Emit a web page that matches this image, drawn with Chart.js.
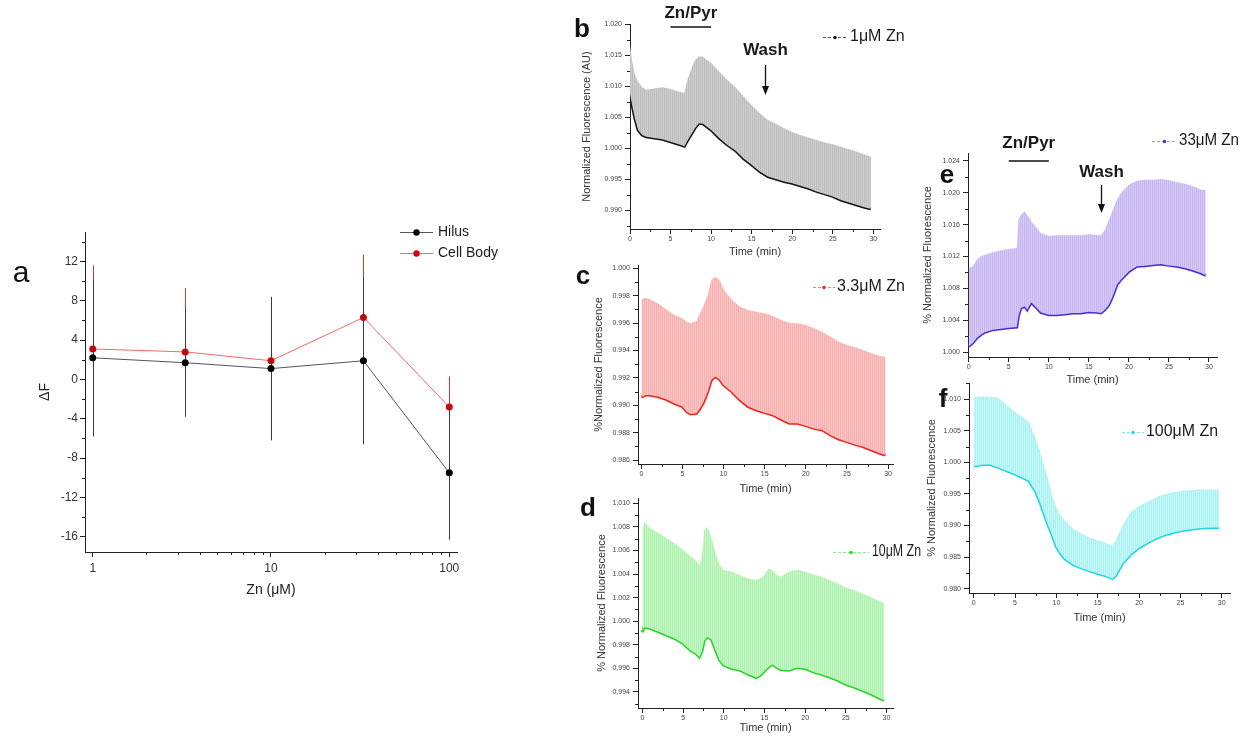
<!DOCTYPE html>
<html>
<head>
<meta charset="utf-8">
<script src="https://cdn.jsdelivr.net/npm/chart.js@4.4.1/dist/chart.umd.min.js"></script>
<style>
  html, body { margin: 0; padding: 0; background: #fff; }
  body { width: 1243px; height: 738px; position: relative; overflow: hidden; font-family: Arial, "Liberation Sans", sans-serif; }
  canvas { position: absolute; }
  .tag { position: absolute; transform: translate(-50%, -50%); color: #111; line-height: 1; }
  .tag.bold { font-weight: bold; font-size: 26px; }
</style>
</head>
<body>
<canvas id="chartA"></canvas>
<canvas id="chartB"></canvas>
<canvas id="chartC"></canvas>
<canvas id="chartD"></canvas>
<canvas id="chartE"></canvas>
<canvas id="chartF"></canvas>

<div class="tag" style="left:21px;top:272px;font-size:30px">a</div>
<div class="tag bold" style="left:582px;top:28px">b</div>
<div class="tag bold" style="left:583px;top:275px">c</div>
<div class="tag bold" style="left:588px;top:507px">d</div>
<div class="tag bold" style="left:947px;top:174px">e</div>
<div class="tag bold" style="left:943px;top:398px">f</div>

<script>
// ---- panel a: dose response ----
const znDose   = [1, 3.3, 10, 33, 100];
const hilusDF  = [2.2, 1.7, 1.1, 1.9, -9.5];
const hilusErr = [8.0, 5.5, 7.3, 8.5, 6.8];
const cellDF   = [3.1, 2.8, 1.9, 6.3, -2.8];
const cellErr  = [8.5, 6.5, 6.0, 6.4, 3.1];

// ---- panel b: 1 uM Zn ----
const bTime  = [0, 0.3, 0.6, 1, 1.5, 2, 3, 4, 5, 6, 6.7, 7, 7.5, 8, 8.5, 9, 10, 11, 12, 13, 14, 15, 16, 17, 18, 19, 20, 21, 22, 23, 24, 25, 26, 27, 28, 29, 29.7];
const bMean  = [1.0088, 1.0067, 1.0048, 1.0029, 1.0021, 1.0018, 1.0016, 1.0014, 1.0010, 1.0006, 1.0003, 1.0010, 1.0021, 1.0032, 1.0040, 1.0039, 1.0029, 1.0016, 1.0005, 0.9996, 0.9983, 0.9973, 0.9962, 0.9954, 0.9950, 0.9946, 0.9943, 0.9939, 0.9935, 0.9930, 0.9926, 0.9922, 0.9916, 0.9912, 0.9908, 0.9904, 0.9902];
const bUpper = [1.0166, 1.0137, 1.0118, 1.0107, 1.0098, 1.0094, 1.0096, 1.0098, 1.0095, 1.0091, 1.0089, 1.0107, 1.0126, 1.0142, 1.0148, 1.0147, 1.0137, 1.0123, 1.0110, 1.0098, 1.0083, 1.0069, 1.0056, 1.0045, 1.0039, 1.0032, 1.0026, 1.0021, 1.0017, 1.0013, 1.0009, 1.0006, 1.0002, 0.9998, 0.9994, 0.9989, 0.9986];

// ---- panel c: 3.3 uM Zn ----
const cTime  = [0, 0.5, 1, 2, 3, 4, 5, 5.5, 6, 6.7, 7, 7.5, 8, 8.5, 9, 9.5, 10, 11, 12, 13, 14, 15, 16, 17, 18, 19, 20, 21, 22, 23, 24, 25, 26, 27, 28, 29, 29.7];
const cMean  = [0.99058, 0.99075, 0.99075, 0.99063, 0.99043, 0.99014, 0.98990, 0.98953, 0.98936, 0.98941, 0.98965, 0.99014, 0.99087, 0.99184, 0.99209, 0.99189, 0.99148, 0.99099, 0.99038, 0.98990, 0.98965, 0.98946, 0.98929, 0.98897, 0.98868, 0.98868, 0.98851, 0.98831, 0.98819, 0.98783, 0.98753, 0.98734, 0.98714, 0.98697, 0.98673, 0.98649, 0.98636];
const cUpper = [0.99774, 0.99786, 0.99774, 0.99744, 0.99700, 0.99659, 0.99635, 0.99610, 0.99598, 0.99615, 0.99659, 0.99720, 0.99793, 0.99915, 0.99939, 0.99915, 0.99847, 0.99769, 0.99720, 0.99696, 0.99683, 0.99671, 0.99652, 0.99623, 0.99603, 0.99598, 0.99586, 0.99562, 0.99537, 0.99501, 0.99464, 0.99440, 0.99423, 0.99403, 0.99379, 0.99360, 0.99355];

// ---- panel d: 10 uM Zn ----
const dTime  = [0, 0.2, 1, 2, 3, 4, 5, 6, 6.5, 7, 7.3, 7.6, 8, 8.5, 9, 9.5, 10, 11, 12, 13, 14, 14.5, 15, 15.5, 16, 16.5, 17, 18, 19, 20, 21, 22, 23, 24, 25, 26, 27, 28, 29, 29.7];
const dMean  = [0.99905, 0.99950, 0.99938, 0.99910, 0.99881, 0.99853, 0.99811, 0.99748, 0.99731, 0.99697, 0.99740, 0.99839, 0.99867, 0.99845, 0.99754, 0.99669, 0.99626, 0.99598, 0.99584, 0.99550, 0.99522, 0.99541, 0.99578, 0.99612, 0.99635, 0.99607, 0.99590, 0.99584, 0.99607, 0.99598, 0.99570, 0.99550, 0.99527, 0.99499, 0.99465, 0.99442, 0.99414, 0.99386, 0.99352, 0.99329];
const dUpper = [1.00773, 1.00844, 1.00788, 1.00745, 1.00703, 1.00660, 1.00604, 1.00547, 1.00519, 1.00476, 1.00547, 1.00773, 1.00802, 1.00703, 1.00575, 1.00476, 1.00434, 1.00419, 1.00391, 1.00363, 1.00349, 1.00363, 1.00391, 1.00448, 1.00434, 1.00391, 1.00377, 1.00419, 1.00439, 1.00419, 1.00397, 1.00377, 1.00349, 1.00320, 1.00286, 1.00264, 1.00235, 1.00207, 1.00173, 1.00150];

// ---- panel e: 33 uM Zn ----
const eTime  = [0, 0.5, 1, 1.5, 2, 3, 4, 5, 6, 6.2, 6.5, 7, 7.3, 7.8, 8.5, 9, 10, 11, 12, 13, 14, 15, 16, 16.5, 17, 17.5, 18, 18.5, 19, 20, 21, 22, 23, 24, 25, 26, 27, 28, 29, 29.6];
const eMean  = [1.00075, 1.00117, 1.00180, 1.00221, 1.00251, 1.00284, 1.00297, 1.00309, 1.00317, 1.00451, 1.00555, 1.00576, 1.00534, 1.00626, 1.00555, 1.00501, 1.00472, 1.00472, 1.00480, 1.00493, 1.00493, 1.00509, 1.00501, 1.00493, 1.00534, 1.00597, 1.00710, 1.00847, 1.00910, 1.01014, 1.01077, 1.01085, 1.01098, 1.01106, 1.01089, 1.01077, 1.01056, 1.01027, 1.00993, 1.00964];
const eUpper = [1.01056, 1.01077, 1.01160, 1.01202, 1.01223, 1.01252, 1.01277, 1.01294, 1.01306, 1.01661, 1.01724, 1.01766, 1.01724, 1.01640, 1.01557, 1.01494, 1.01461, 1.01465, 1.01465, 1.01465, 1.01465, 1.01478, 1.01470, 1.01465, 1.01536, 1.01661, 1.01786, 1.01912, 1.01995, 1.02099, 1.02150, 1.02162, 1.02162, 1.02170, 1.02154, 1.02133, 1.02112, 1.02079, 1.02037, 1.02029];

// ---- panel f: 100 uM Zn ----
const fTime  = [0, 1, 2, 3, 4, 5, 6, 6.7, 7, 7.5, 8, 8.5, 9, 9.5, 10, 10.5, 11, 12, 13, 14, 15, 16, 16.8, 17.2, 18, 19, 20, 21, 22, 23, 24, 25, 26, 27, 28, 29, 29.7];
const fMean  = [0.99940, 0.99966, 0.99966, 0.99919, 0.99866, 0.99813, 0.99755, 0.99707, 0.99638, 0.99533, 0.99374, 0.99189, 0.99004, 0.98846, 0.98661, 0.98555, 0.98476, 0.98381, 0.98328, 0.98280, 0.98238, 0.98201, 0.98159, 0.98211, 0.98396, 0.98544, 0.98645, 0.98724, 0.98793, 0.98846, 0.98883, 0.98914, 0.98936, 0.98951, 0.98962, 0.98967, 0.98967];
const fUpper = [1.01045, 1.01045, 1.01040, 1.01020, 1.00907, 1.00801, 1.00711, 1.00643, 1.00537, 1.00378, 1.00193, 0.99956, 0.99744, 0.99480, 0.99295, 0.99163, 0.99083, 0.98951, 0.98872, 0.98809, 0.98766, 0.98724, 0.98682, 0.98766, 0.99004, 0.99216, 0.99306, 0.99374, 0.99443, 0.99490, 0.99522, 0.99549, 0.99559, 0.99570, 0.99570, 0.99570, 0.99570];

const FONT = 'Arial, "Liberation Sans", sans-serif';
const ink = '#222';
Chart.defaults.font.family = FONT;

function placeCanvas(id, box) {
  const c = document.getElementById(id);
  c.width = box.w; c.height = box.h;
  c.style.left = box.x + 'px'; c.style.top = box.y + 'px';
  c.style.width = box.w + 'px'; c.style.height = box.h + 'px';
  return c;
}

function range(from, to, step) {
  const out = [];
  for (let i = 0; from + i * step <= to + step * 1e-6; i++) out.push(+(from + i * step).toFixed(6));
  return out;
}

function minorOnly(from, to, step, majorStep) {
  return range(from, to, step).filter(v => Math.abs(v / majorStep - Math.round(v / majorStep)) > 1e-6);
}

// short tick marks between the labelled ones
function minorTickPlugin(xMinor, yMinor, len) {
  return {
    id: 'minorTicks',
    afterDraw(chart) {
      const { ctx, chartArea: a, scales: { x, y } } = chart;
      ctx.save();
      ctx.strokeStyle = ink; ctx.lineWidth = 1;
      ctx.beginPath();
      xMinor.forEach(v => {
        if (v < x.min || v > x.max) return;
        const px = Math.round(x.getPixelForValue(v)) + 0.5;
        ctx.moveTo(px, a.bottom); ctx.lineTo(px, a.bottom + len);
      });
      yMinor.forEach(v => {
        if (v < y.min || v > y.max) return;
        const py = Math.round(y.getPixelForValue(v)) + 0.5;
        ctx.moveTo(a.left - len, py); ctx.lineTo(a.left, py);
      });
      ctx.stroke();
      ctx.restore();
    }
  };
}

// fine vertical hatching for the SEM bands
function stripes(light, dark) {
  const c = document.createElement('canvas');
  c.width = 2; c.height = 4;
  const g = c.getContext('2d');
  g.fillStyle = light; g.fillRect(0, 0, 2, 4);
  g.fillStyle = dark; g.fillRect(0, 0, 1, 4);
  return g.createPattern(c, 'repeat');
}

// ---------------- panel a ----------------
(function () {
  const box = { x: 0, y: 200, w: 560, h: 420 };
  const area = { L: 85, T: 232, R: 457, B: 552 };
  const yW = 70, xH = 50;
  const canvas = placeCanvas('chartA', box);

  const errorBars = {
    id: 'errorBars',
    beforeDatasetDraw(chart, args) {
      const ds = chart.data.datasets[args.index];
      const { x, y } = chart.scales;
      const ctx = chart.ctx;
      ctx.save();
      ctx.strokeStyle = ds.errColor; ctx.lineWidth = 1;
      ctx.beginPath();
      ds.data.forEach((pt, i) => {
        const px = Math.round(x.getPixelForValue(pt.x)) + 0.5;
        ctx.moveTo(px, y.getPixelForValue(pt.y + ds.err[i]));
        ctx.lineTo(px, y.getPixelForValue(pt.y - ds.err[i]));
      });
      ctx.stroke();
      ctx.restore();
    }
  };

  const legendA = {
    id: 'legendA',
    afterDraw(chart) {
      const ctx = chart.ctx;
      ctx.save();
      ctx.font = '14px ' + FONT;
      ctx.textBaseline = 'middle';
      chart.data.datasets.forEach((ds, i) => {
        const yy = 232 + i * 21 - box.y + 0.5;
        ctx.strokeStyle = ds.borderColor; ctx.lineWidth = 1;
        ctx.beginPath(); ctx.moveTo(400 - box.x, yy); ctx.lineTo(433 - box.x, yy); ctx.stroke();
        ctx.fillStyle = ds.pointBackgroundColor;
        ctx.beginPath(); ctx.arc(416.5 - box.x, yy, 3.2, 0, Math.PI * 2); ctx.fill();
        ctx.fillStyle = '#1a1a1a';
        ctx.fillText(ds.label, 438 - box.x, yy);
      });
      ctx.restore();
    }
  };

  new Chart(canvas, {
    type: 'line',
    data: {
      datasets: [
        {
          label: 'Hilus',
          data: znDose.map((v, i) => ({ x: v, y: hilusDF[i] })),
          err: hilusErr, errColor: '#3a3a3a',
          borderColor: '#555', borderWidth: 1,
          pointRadius: 3.5, pointBackgroundColor: '#000', pointBorderColor: '#000', pointBorderWidth: 0,
          tension: 0
        },
        {
          label: 'Cell Body',
          data: znDose.map((v, i) => ({ x: v, y: cellDF[i] })),
          err: cellErr, errColor: '#e03030',
          borderColor: '#ee6a6a', borderWidth: 1,
          pointRadius: 3.5, pointBackgroundColor: '#e00000', pointBorderColor: '#e00000', pointBorderWidth: 0,
          tension: 0
        }
      ]
    },
    options: {
      responsive: false, animation: false, devicePixelRatio: 1,
      layout: { padding: { left: area.L - box.x - yW, top: area.T - box.y, right: box.x + box.w - area.R, bottom: box.y + box.h - area.B - xH } },
      plugins: { legend: { display: false }, tooltip: { enabled: false } },
      scales: {
        x: {
          type: 'logarithmic', min: 0.905, max: 110.5,
          afterFit: s => { s.height = xH; },
          afterBuildTicks: s => { s.ticks = [1, 10, 100].map(v => ({ value: v })); },
          ticks: { font: { size: 12 }, color: '#333', padding: 4, maxRotation: 0, autoSkip: false, callback: v => String(v) },
          grid: { drawOnChartArea: false, tickLength: 5, color: ink },
          border: { color: ink },
          title: { display: true, text: 'Zn (μM)', font: { size: 14 }, color: '#222', padding: { top: 0, bottom: area.B + xH - 590 - 8.4 } }
        },
        y: {
          type: 'linear', min: -17.56, max: 15,
          afterFit: s => { s.width = yW; },
          afterBuildTicks: s => { s.ticks = range(-16, 12, 4).map(v => ({ value: v })); },
          ticks: { font: { size: 12 }, color: '#333', padding: 2, autoSkip: false, callback: v => String(v) },
          grid: { drawOnChartArea: false, tickLength: 5, color: ink },
          border: { color: ink },
          title: { display: true, text: 'ΔF', font: { size: 14 }, color: '#222', padding: { top: 45 - (area.L - yW) - 8.4, bottom: 0 } }
        }
      }
    },
    plugins: [
      errorBars,
      minorTickPlugin([2, 3, 4, 5, 6, 7, 8, 9, 20, 30, 40, 50, 60, 70, 80, 90], minorOnly(-16, 14, 2, 4), 3),
      legendA
    ]
  });
})();

// ---------------- time course panels ----------------
function timePanel(p) {
  const yW = 60, xH = 34;
  const area = p.area;
  const box = { x: area.L - 70, y: area.T - 30, w: area.R - area.L + 110, h: area.B - area.T + 30 + xH + 8 };
  const canvas = placeCanvas(p.id, box);
  const lh = 11 * 1.2;
  const yMajor = range(p.yTicks[0], p.yTicks[1], p.yTicks[2]);
  const yMinor = minorOnly(p.yTicks[0] - p.yTicks[2], p.yTicks[1] + p.yTicks[2], p.yTicks[2] / 2, p.yTicks[2]);

  const decor = {
    id: 'decor',
    afterDraw(chart) {
      const ctx = chart.ctx, x = chart.scales.x;
      const ox = box.x, oy = box.y;
      const lg = p.legend;
      ctx.save();
      // legend: dashed sample with a dot, then the series name
      ctx.strokeStyle = p.legendLine; ctx.lineWidth = 1;
      ctx.setLineDash([3, 2]);
      ctx.beginPath(); ctx.moveTo(lg.x1 - ox, lg.y - oy + 0.5); ctx.lineTo(lg.x2 - ox, lg.y - oy + 0.5); ctx.stroke();
      ctx.setLineDash([]);
      ctx.fillStyle = p.line;
      ctx.beginPath(); ctx.arc((lg.x1 + lg.x2) / 2 - ox, lg.y - oy + 0.5, 1.7, 0, Math.PI * 2); ctx.fill();
      ctx.fillStyle = '#1a1a1a';
      ctx.font = '16px ' + FONT;
      ctx.textBaseline = 'middle'; ctx.textAlign = 'left';
      ctx.fillText(p.label, lg.tx - ox, lg.y - oy, lg.w);

      if (p.notes) {
        const n = p.notes;
        const x0 = x.getPixelForValue(n.bar[0]), x1 = x.getPixelForValue(n.bar[1]);
        const xw = Math.round(x.getPixelForValue(n.washT)) + 0.5;
        ctx.font = 'bold 17px ' + FONT;
        ctx.textAlign = 'center';
        ctx.fillText('Zn/Pyr', (x0 + x1) / 2, n.pyrY - oy);
        ctx.fillText('Wash', xw, n.washY - oy);
        ctx.strokeStyle = '#111'; ctx.lineWidth = 1.6;
        ctx.beginPath(); ctx.moveTo(x0, n.barY - oy); ctx.lineTo(x1, n.barY - oy); ctx.stroke();
        ctx.lineWidth = 1.3;
        ctx.beginPath(); ctx.moveTo(xw, n.arrow[0] - oy); ctx.lineTo(xw, n.arrow[1] - oy - 6); ctx.stroke();
        ctx.fillStyle = '#111';
        ctx.beginPath();
        ctx.moveTo(xw, n.arrow[1] - oy);
        ctx.lineTo(xw - 3.5, n.arrow[1] - oy - 9);
        ctx.lineTo(xw + 3.5, n.arrow[1] - oy - 9);
        ctx.closePath(); ctx.fill();
      }
      ctx.restore();
    }
  };

  new Chart(canvas, {
    type: 'line',
    data: {
      datasets: [
        {
          label: p.label + ' (mean + SEM)',
          data: p.time.map((t, i) => ({ x: t, y: p.upper[i] })),
          borderColor: 'transparent', borderWidth: 0, pointRadius: 0,
          backgroundColor: stripes(p.fill[0], p.fill[1]),
          fill: '+1', tension: 0
        },
        {
          label: p.label,
          data: p.time.map((t, i) => ({ x: t, y: p.mean[i] })),
          borderColor: p.line, borderWidth: 3, pointRadius: 0,
          fill: false, tension: 0
        }
      ]
    },
    options: {
      responsive: false, animation: false, devicePixelRatio: 1,
      layout: { padding: { left: 10, top: 30, right: box.x + box.w - area.R, bottom: 8 } },
      plugins: { legend: { display: false }, tooltip: { enabled: false } },
      scales: {
        x: {
          type: 'linear', min: p.xRange[0], max: p.xRange[1],
          afterFit: s => { s.height = xH; },
          afterBuildTicks: s => { s.ticks = range(0, 30, 5).map(v => ({ value: v })); },
          ticks: { font: { size: 7 }, color: '#444', padding: 1, maxRotation: 0, autoSkip: false, callback: v => String(v) },
          grid: { drawOnChartArea: false, tickLength: 5, color: ink },
          border: { color: ink },
          title: { display: true, text: 'Time (min)', font: { size: 11 }, color: '#333', padding: { top: 0, bottom: area.B + xH - p.xTitleY - lh / 2 } }
        },
        y: {
          type: 'linear', min: p.yRange[0], max: p.yRange[1],
          afterFit: s => { s.width = yW; },
          afterBuildTicks: s => { s.ticks = yMajor.map(v => ({ value: v })); },
          ticks: { font: { size: 7 }, color: '#444', padding: 3, autoSkip: false, callback: v => v.toFixed(3) },
          grid: { drawOnChartArea: false, tickLength: 5, color: ink },
          border: { color: ink },
          title: { display: true, text: p.yTitle, font: { size: 11 }, color: '#333', padding: { top: p.yTitleX - (area.L - yW) - lh / 2, bottom: 0 } }
        }
      }
    },
    plugins: [minorTickPlugin(range(2.5, 27.5, 5), yMinor, 3), decor]
  });
}

timePanel({
  id: 'chartB', label: '1μM Zn',
  time: bTime, mean: bMean, upper: bUpper,
  area: { L: 630, T: 24, R: 880, B: 229 },
  xRange: [0, 30.82], yRange: [0.98694, 1.020], yTicks: [0.990, 1.020, 0.005],
  line: '#141414', legendLine: '#555', fill: ['#cecece', '#bdbdbd'],
  yTitle: 'Normalized Fluorescence (AU)', yTitleX: 587, xTitleY: 252,
  legend: { x1: 823, x2: 847, y: 37, tx: 850, w: 56 },
  notes: { bar: [5, 10], pyrY: 13, barY: 27, washT: 16.6, washY: 50, arrow: [65, 95] }
});

timePanel({
  id: 'chartC', label: '3.3μM Zn',
  time: cTime, mean: cMean, upper: cUpper,
  area: { L: 638, T: 265, R: 893, B: 464 },
  xRange: [-0.41, 30.6], yRange: [0.98571, 1.00024], yTicks: [0.986, 1.000, 0.002],
  line: '#e8251e', legendLine: '#f08080', fill: ['#fbc4c4', '#f6b0b0'],
  yTitle: '%Normalized Fluorescence', yTitleX: 599, xTitleY: 489,
  legend: { x1: 813, x2: 835, y: 287, tx: 837, w: 68 }
});

timePanel({
  id: 'chartD', label: '10μM Zn',
  time: dTime, mean: dMean, upper: dUpper,
  area: { L: 638, T: 498, R: 893, B: 708 },
  xRange: [-0.54, 30.8], yRange: [0.99264, 1.01045], yTicks: [0.994, 1.010, 0.002],
  line: '#27d427', legendLine: '#8be88b', fill: ['#c4f8c4', '#aef0ae'],
  yTitle: '% Normalized Fluorescence', yTitleX: 602, xTitleY: 728,
  legend: { x1: 833, x2: 869, y: 552, tx: 872, w: 49 }
});

timePanel({
  id: 'chartE', label: '33μM Zn',
  time: eTime, mean: eMean, upper: eUpper,
  area: { L: 968, T: 153, R: 1217, B: 357 },
  xRange: [-0.09, 31.0], yRange: [0.99942, 1.02496], yTicks: [1.000, 1.024, 0.004],
  line: '#4a2bd4', legendLine: '#a99be6', fill: ['#d6caf7', '#c5b5f1'],
  yTitle: '% Normalized Fluorescence', yTitleX: 928, xTitleY: 380,
  legend: { x1: 1152, x2: 1177, y: 141, tx: 1179, w: 60 },
  notes: { bar: [5, 10], pyrY: 143, barY: 161, washT: 16.5, washY: 172, arrow: [185, 213] }
});

timePanel({
  id: 'chartF', label: '100μM Zn',
  time: fTime, mean: fMean, upper: fUpper,
  area: { L: 969, T: 383, R: 1230, B: 593 },
  xRange: [-0.57, 31.0], yRange: [0.97930, 1.01257], yTicks: [0.980, 1.010, 0.005],
  line: '#1fd6e0', legendLine: '#7fe6ec', fill: ['#c4f7f7', '#acf0f0'],
  yTitle: '% Normalized Fluorescence', yTitleX: 932, xTitleY: 618,
  legend: { x1: 1122, x2: 1144, y: 432, tx: 1146, w: 72 }
});
</script>
</body>
</html>
